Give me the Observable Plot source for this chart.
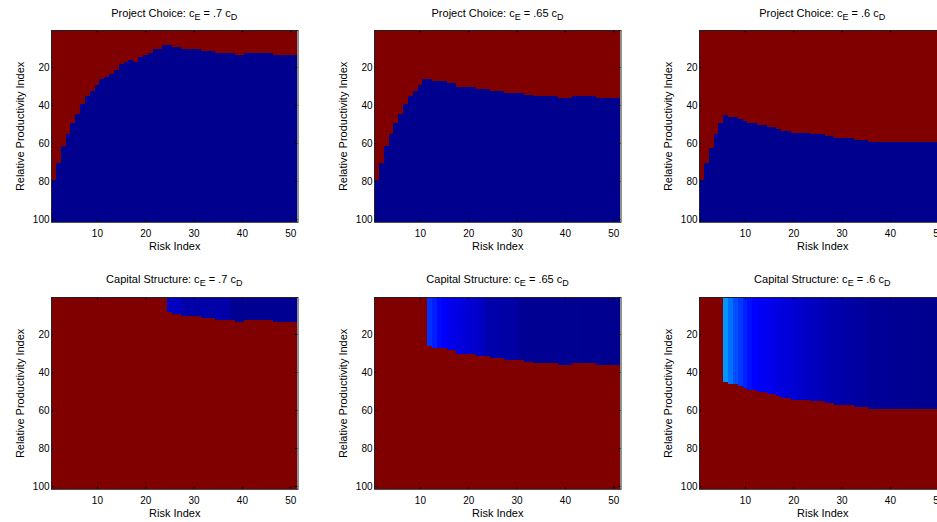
<!DOCTYPE html>
<html>
<head>
<meta charset="utf-8">
<script src="https://cdn.jsdelivr.net/npm/d3@7"></script>
<script src="https://cdn.jsdelivr.net/npm/@observablehq/plot@0.6"></script>
<style>
html, body { margin: 0; padding: 0; background: #fff; }
#fig { position: relative; width: 937px; height: 522px; overflow: hidden; background: #fff;
       font-family: "Liberation Sans", Arial, sans-serif; color: #000; }
.panel { position: absolute; }
.panel svg { max-width: none !important; display: block; }
.title { position: absolute; font-size: 11px; line-height: 13px; white-space: nowrap;
         transform: translateX(-50%); color: #000; }
.title sub { font-size: 9px; vertical-align: baseline; position: relative; top: 3px; }
</style>
</head>
<body>
<div id="fig"></div>
<script>
// ---------- data ----------
const riskIndex = d3.range(1, 52);            // Risk Index 1..51 (columns)
const productivityCount = 101;                // Relative Productivity Index 1..101 (rows)
const riskTicks = [10, 20, 30, 40, 50];
const productivityTicks = [20, 40, 60, 80, 100];
const costRatios = [".7", ".65", ".6"];

// last "red" productivity row for each risk index (project-choice boundary)
const boundary70 = [79,70,61,55,49,44,39,35,32,29,26,25,23,21,18,17,16,17,14,13,12,10,10,8,8,9,9,10,10,10,10,11,11,11,12,12,12,12,13,13,12,12,12,12,12,12,13,13,13,13,13];
const boundary65 = [79,70,61,55,49,44,39,35,32,29,26,26,27,27,27,28,28,30,30,30,30,31,31,31,32,32,32,33,33,33,33,34,34,35,35,35,35,35,36,36,36,35,35,35,35,35,36,36,36,36,36];
const boundary60 = [79,70,62,55,49,45,46,46,47,48,49,49,50,50,51,51,52,53,53,54,54,54,54,55,55,55,56,56,57,57,57,57,58,58,58,59,59,59,59,59,59,59,59,59,59,59,59,59,59,59,59];

// capital structure: first risk index with the blue region, and its colour level per column
const capStart = [25, 12, 6];
const capLevel70 = [0.05,0.05,0.05,0.025,0.025,0.025,0.025,0.025,0.025,0.025,0.025,0.025,0.025,0.003,0.003,0.003,0.003,0.003,0.003,0.003,0.003,0.003,0.003,0.003,0.003,0.003,0.003];
const capLevel65 = [0.16,0.14,0.118,0.108,0.095,0.088,0.082,0.076,0.07,0.064,0.056,0.052,0.03,0.028,0.026,0.025,0.024,0.022,0.02,0.005,0.005,0.004,0.004,0.004,0.003,0.003,0.003,0.003,0.002,0.002,0.002,0.002,0.001,0.001,0.001,0.001,0,0,0,0];
const capLevel60 = [0.26,0.225,0.19,0.165,0.145,0.125,0.112,0.105,0.098,0.092,0.087,0.082,0.077,0.072,0.067,0.062,0.058,0.054,0.05,0.046,0.042,0.038,0.034,0.03,0.027,0.024,0.021,0.018,0.015,0.012,0.01,0.008,0.007,0.006,0.005,0.004,0.004,0.003,0.003,0.002,0.002,0.001,0.001,0,0,0];

// MATLAB "jet" colormap anchors
const jetStops = [0, 7/63, 23/63, 39/63, 55/63, 1];
const jetColors = ["#00008f", "#0000ff", "#00ffff", "#ffff00", "#ff0000", "#800000"];

// ---------- build cell strips ----------
function projectRects(boundary) {
  const out = [];
  riskIndex.forEach((c, i) => {
    const b = boundary[i];
    out.push({x1: c - 0.5, x2: c + 0.5, y1: 0.5, y2: b + 0.5, v: 1});
    out.push({x1: c - 0.5, x2: c + 0.5, y1: b + 0.5, y2: productivityCount + 0.5, v: 0});
  });
  return out;
}
function capitalRects(boundary, start, levels) {
  const out = [];
  riskIndex.forEach((c, i) => {
    const b = boundary[i];
    if (c < start) {
      out.push({x1: c - 0.5, x2: c + 0.5, y1: 0.5, y2: productivityCount + 0.5, v: 1});
    } else {
      out.push({x1: c - 0.5, x2: c + 0.5, y1: 0.5, y2: b + 0.5, v: levels[c - start]});
      out.push({x1: c - 0.5, x2: c + 0.5, y1: b + 0.5, y2: productivityCount + 0.5, v: 1});
    }
  });
  return out;
}

// ---------- layout ----------
const PW = 246.5, PH = 191.8;
const ML = 51, MT = 31, MR = 12, MB = 36;
const colX = [51, 374.3, 699];
const rowY = [30.3, 297];
const fig = document.getElementById("fig");
const font = '"Liberation Sans", Arial, sans-serif';
const xDom = [0.5, riskIndex.length + 0.5];
const yDom = [0.5, productivityCount + 0.5];

function panel(rects, px, py, titleHTML) {
  const svg = Plot.plot({
    width: ML + PW + MR, height: MT + PH + MB,
    marginLeft: ML, marginTop: MT, marginRight: MR, marginBottom: MB,
    style: {fontFamily: font, fontSize: "10px", color: "#000", background: "transparent", overflow: "visible"},
    x: {domain: xDom},
    y: {domain: yDom, reverse: true},
    color: {type: "linear", domain: jetStops, range: jetColors, interpolate: "rgb"},
    marks: [
      Plot.rect(rects, {x1: "x1", x2: "x2", y1: "y1", y2: "y2", fill: "v", shapeRendering: "crispEdges"}),
      // inward MATLAB-style ticks on all four sides
      Plot.ruleX(riskTicks, {x: d => d, y1: yDom[1], y2: yDom[1] - 1.3, stroke: "#000"}),
      Plot.ruleX(riskTicks, {x: d => d, y1: yDom[0], y2: yDom[0] + 1.3, stroke: "#000"}),
      Plot.ruleY(productivityTicks, {y: d => d, x1: xDom[0], x2: xDom[0] + 0.52, stroke: "#000"}),
      Plot.ruleY(productivityTicks, {y: d => d, x1: xDom[1], x2: xDom[1] - 0.52, stroke: "#000"}),
      Plot.frame({stroke: "#222", strokeWidth: 1}),
      Plot.axisX({ticks: riskTicks, tickSize: 0, tickPadding: 8, label: null, fontSize: 10}),
      Plot.axisY({ticks: productivityTicks, tickSize: 0, tickPadding: 2, label: null, fontSize: 10}),
      Plot.text(["Risk Index"], {text: d => d, frameAnchor: "bottom", dy: 20, lineAnchor: "top", textAnchor: "middle", fontSize: 11}),
      Plot.text(["Relative Productivity Index"], {text: d => d, frameAnchor: "left", textAnchor: "middle", rotate: -90, dx: -31.5, fontSize: 11})
    ]
  });
  const div = document.createElement("div");
  div.className = "panel";
  div.style.left = (px - ML) + "px";
  div.style.top = (py - MT) + "px";
  div.style.width = (ML + PW + MR) + "px";
  div.appendChild(svg);
  fig.appendChild(div);

  const t = document.createElement("div");
  t.className = "title";
  t.innerHTML = titleHTML;
  t.style.left = (px + PW / 2) + "px";
  t.style.top = (py - 13.5 - 10.3) + "px";
  fig.appendChild(t);
}

const boundaries = [boundary70, boundary65, boundary60];
const capLevels = [capLevel70, capLevel65, capLevel60];

costRatios.forEach((r, j) => {
  panel(projectRects(boundaries[j]), colX[j], rowY[0],
        `Project Choice: c<sub>E</sub> = ${r} c<sub>D</sub>`);
  panel(capitalRects(boundaries[j], capStart[j], capLevels[j]), colX[j], rowY[1],
        `Capital Structure: c<sub>E</sub> = ${r} c<sub>D</sub>`);
});
</script>
</body>
</html>
